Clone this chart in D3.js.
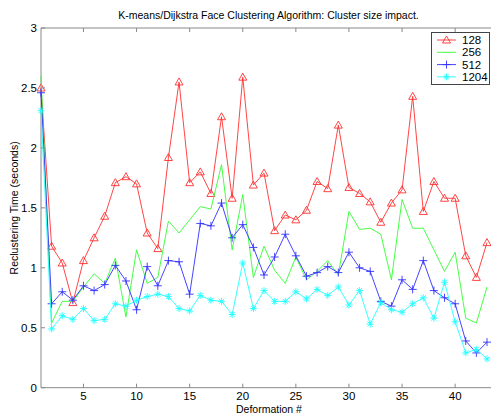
<!DOCTYPE html>
<html>
<head>
<meta charset="utf-8">
<script src="https://cdn.jsdelivr.net/npm/d3@7"></script>
<style>
body { margin: 0; background: #fff; }
svg text { font-family: "Liberation Sans", Arial, sans-serif; fill: #000; }
</style>
</head>
<body>
<div id="chart"></div>
<script>
// deformation numbers 1..43
var deformations = d3.range(1, 44)

var series128 = [2.50, 1.18, 1.04, 0.71, 1.06, 1.25, 1.43, 1.71, 1.76, 1.70,
	1.29, 1.16, 1.92, 2.55, 1.71, 1.80, 1.62, 2.26, 1.58, 2.59,
	1.69, 1.79, 1.31, 1.44, 1.40, 1.48, 1.72, 1.66, 2.19, 1.67,
	1.62, 1.55, 1.38, 1.54, 1.65, 2.43, 1.47, 1.72, 1.58, 1.58,
	1.10, 0.92, 1.21]
var series256 = [2.60, 0.54, 0.72, 0.72, 0.84, 0.95, 0.87, 1.08, 0.59, 1.15,
	0.87, 0.92, 1.39, 1.29, 1.40, 1.51, 1.49, 1.86, 1.15, 1.61,
	0.92, 1.18, 0.98, 0.87, 1.09, 0.90, 0.97, 1.06, 0.94, 1.47,
	1.32, 1.33, 1.28, 0.90, 1.57, 1.33, 1.33, 1.15, 0.97, 1.13,
	0.58, 0.54, 0.84]
var series512 = [2.46, 0.70, 0.80, 0.73, 0.85, 0.81, 0.86, 1.02, 0.89, 0.65,
	1.01, 0.85, 1.06, 1.05, 0.78, 1.37, 1.35, 1.54, 1.25, 1.36,
	1.17, 0.94, 1.09, 1.28, 1.10, 0.93, 0.96, 1.01, 0.96, 1.13,
	1.00, 0.97, 0.72, 0.68, 0.90, 0.82, 1.06, 0.81, 0.75, 0.70,
	0.39, 0.29, 0.38]
var series1204 = [2.31, 0.49, 0.60, 0.57, 0.66, 0.56, 0.57, 0.70, 0.68, 0.73,
	0.76, 0.78, 0.76, 0.66, 0.64, 0.77, 0.73, 0.72, 0.61, 1.04,
	0.66, 0.81, 0.72, 0.72, 0.80, 0.74, 0.82, 0.77, 0.84, 0.69,
	0.81, 0.53, 0.71, 0.65, 0.63, 0.70, 0.75, 0.58, 0.88, 0.55,
	0.29, 0.32, 0.24]

var legendLabels = ["128", "256", "512", "1204"]
var xTicks = [5, 10, 15, 20, 25, 30, 35, 40]
var yTicks = [0, 0.5, 1, 1.5, 2, 2.5, 3]

var WIDTH = 491, HEIGHT = 414
var LEFT = 41, TOP = 28, BOTTOM = 387.7

var svg = d3.select("#chart").append("svg")
	.attr("width", WIDTH)
	.attr("height", HEIGHT)

var x = d3.scaleLinear().domain([1, 43]).range([LEFT, 487])
var y = d3.scaleLinear().domain([0, 3]).range([BOTTOM, TOP])

var axisColor = "#888"

// box (no right edge visible in the picture)
svg.append("line").attr("x1", LEFT).attr("x2", WIDTH).attr("y1", TOP).attr("y2", TOP)
	.attr("stroke", axisColor)
svg.append("line").attr("x1", LEFT).attr("x2", WIDTH).attr("y1", BOTTOM).attr("y2", BOTTOM)
	.attr("stroke", axisColor)
svg.append("line").attr("x1", LEFT).attr("x2", LEFT).attr("y1", TOP).attr("y2", BOTTOM)
	.attr("stroke", axisColor)

// x ticks, inside, top and bottom
svg.selectAll(".xtick").data(xTicks).enter().append("line")
	.attr("x1", function(d){ return x(d) }).attr("x2", function(d){ return x(d) })
	.attr("y1", BOTTOM).attr("y2", BOTTOM - 4)
	.attr("stroke", axisColor)
svg.selectAll(".xtickTop").data(xTicks).enter().append("line")
	.attr("x1", function(d){ return x(d) }).attr("x2", function(d){ return x(d) })
	.attr("y1", TOP).attr("y2", TOP + 4)
	.attr("stroke", axisColor)
svg.selectAll(".xlabel").data(xTicks).enter().append("text")
	.attr("x", function(d){ return x(d) })
	.attr("y", 400)
	.attr("text-anchor", "middle")
	.attr("font-size", "11.5px")
	.text(function(d){ return d })

svg.selectAll(".ytick").data(yTicks).enter().append("line")
	.attr("x1", LEFT).attr("x2", LEFT + 4)
	.attr("y1", function(d){ return y(d) }).attr("y2", function(d){ return y(d) })
	.attr("stroke", axisColor)
svg.selectAll(".ylabel").data(yTicks).enter().append("text")
	.attr("x", LEFT - 4)
	.attr("y", function(d){ return y(d) + 4 })
	.attr("text-anchor", "end")
	.attr("font-size", "11.5px")
	.text(function(d){ return d })

svg.append("text")
	.attr("x", 268.5).attr("y", 19)
	.attr("text-anchor", "middle")
	.attr("font-size", "10.5px")
	.text("K-means/Dijkstra Face Clustering Algorithm: Cluster size impact.")

svg.append("text")
	.attr("x", 269).attr("y", 413)
	.attr("text-anchor", "middle")
	.attr("font-size", "10.5px")
	.text("Deformation #")

svg.append("text")
	.attr("transform", "translate(18," + ((TOP + BOTTOM) / 2) + ") rotate(-90)")
	.attr("text-anchor", "middle")
	.attr("font-size", "10.5px")
	.text("Reclustering Time (seconds)")

// marker drawers
function triangle(g, cx, cy, color){
	var s = 4
	g.append("path")
		.attr("d", "M" + cx + "," + (cy - s) + "L" + (cx + s) + "," + (cy + s * 0.75) + "L" + (cx - s) + "," + (cy + s * 0.75) + "Z")
		.attr("fill", "none").attr("stroke", color).attr("stroke-width", 0.9)
}
function plus(g, cx, cy, color){
	var s = 4
	g.append("path")
		.attr("d", "M" + (cx - s) + "," + cy + "H" + (cx + s) + "M" + cx + "," + (cy - s) + "V" + (cy + s))
		.attr("fill", "none").attr("stroke", color).attr("stroke-width", 0.9)
}
function star(g, cx, cy, color){
	var s = 3.5, d = 2.5
	g.append("path")
		.attr("d", "M" + (cx - s) + "," + cy + "H" + (cx + s) + "M" + cx + "," + (cy - s) + "V" + (cy + s)
			+ "M" + (cx - d) + "," + (cy - d) + "L" + (cx + d) + "," + (cy + d)
			+ "M" + (cx - d) + "," + (cy + d) + "L" + (cx + d) + "," + (cy - d))
		.attr("fill", "none").attr("stroke", color).attr("stroke-width", 0.9)
}

var seriesList = [
	{ label: legendLabels[0], values: series128, color: "#ff3030", marker: triangle },
	{ label: legendLabels[1], values: series256, color: "#30ff30", marker: null },
	{ label: legendLabels[2], values: series512, color: "#3030ff", marker: plus },
	{ label: legendLabels[3], values: series1204, color: "#20ffff", marker: star }
]

var line = d3.line()
	.x(function(d, i){ return x(deformations[i]) })
	.y(function(d){ return y(d) })

seriesList.forEach(function(s){
	var g = svg.append("g")
	g.append("path")
		.datum(s.values)
		.attr("d", line)
		.attr("fill", "none")
		.attr("stroke", s.color)
		.attr("stroke-width", 0.9)
	if(s.marker){
		s.values.forEach(function(v, i){
			s.marker(g, x(deformations[i]), y(v), s.color)
		})
	}
})

// legend
var legend = svg.append("g")
legend.append("rect")
	.attr("x", 431.5).attr("y", 32.5)
	.attr("width", 58).attr("height", 52)
	.attr("fill", "#fff").attr("stroke", "#444")

seriesList.forEach(function(s, i){
	var ly = 40 + i * 12.3
	legend.append("line")
		.attr("x1", 437).attr("x2", 456)
		.attr("y1", ly).attr("y2", ly)
		.attr("stroke", s.color).attr("stroke-width", 0.9)
	if(s.marker) s.marker(legend, 446.5, ly, s.color)
	legend.append("text")
		.attr("x", 462).attr("y", ly + 4)
		.attr("font-size", "11.5px")
		.text(s.label)
})
</script>
</body>
</html>
